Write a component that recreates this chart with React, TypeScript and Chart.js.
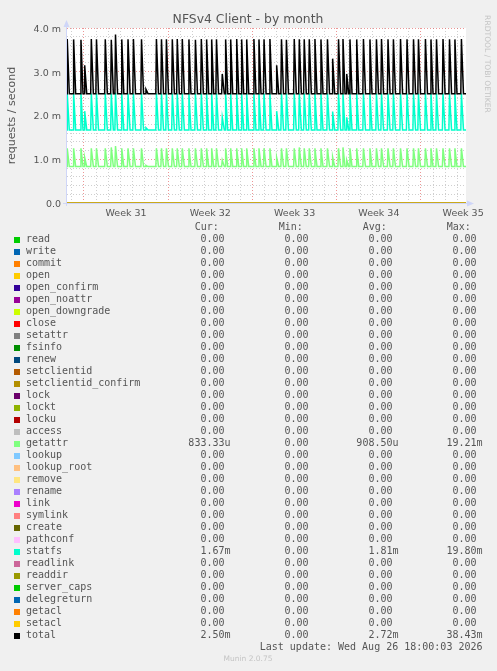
import React, { useEffect, useRef } from "react";
import { Chart, registerables } from "chart.js";

Chart.register(...registerables);

const TITLE = "NFSv4 Client - by month";
const Y_TITLE = "requests / second";
const WATERMARK = "RRDTOOL / TOBI OETIKER";
const LAST_UPDATE = "Last update: Wed Aug 26 18:00:03 2026";
const VERSION = "Munin 2.0.75";

// x axis in days since the start of Week 31; y axis in milli-requests / second
const X_MIN = -1.41;
const X_MAX = 31.74;
const Y_MIN = 0;
const Y_MAX = 4;
const dayTicks = [-1, 0, 1, 2, 3, 4, 5, 6, 7, 8, 9, 10, 11, 12, 13, 14, 15, 16, 17, 18, 19, 20, 21, 22, 23, 24, 25, 26, 27, 28, 29, 30, 31];
const weekCenters = [3.5, 10.5, 17.5, 24.5, 31.5];
const weekLabels = ["Week 31", "Week 32", "Week 33", "Week 34", "Week 35"];
const yTicks = [0, 0.2, 0.4, 0.6, 0.8, 1, 1.2, 1.4, 1.6, 1.8, 2, 2.2, 2.4, 2.6, 2.8, 3, 3.2, 3.4, 3.6, 3.8, 4];
const yMajor = [0, 1, 2, 3, 4];
const yMajorLabels = ["0.0", "1.0 m", "2.0 m", "3.0 m", "4.0 m"];

// spike events (day, peak)
const spikeDays = [
  -1.39, -0.86, -0.25, 0.06, 0.61, 1.04, 1.77, 2.27, 2.62, 3.14, 3.66, 4.11, 4.78, 5.15,
  6.02, 6.44, 6.85, 7.34, 7.75, 8.17, 8.72, 9.26, 9.75, 10.19, 10.61, 11.01, 11.49, 11.77,
  12.19, 12.69, 13.1, 13.52, 14.12, 14.54, 14.96, 15.45, 16.01, 16.41, 16.82, 17.47, 17.89,
  18.3, 18.72, 19.19, 19.69, 20.23, 20.66, 21.15, 21.52, 21.83, 22.1, 22.66, 23.22, 23.76,
  24.3, 24.72, 25.26, 25.71, 26.3, 26.84, 27.38, 27.79, 28.37, 28.83, 29.29, 29.83, 30.37,
  30.82, 31.36,
];
const totalPeaks = [
  3.75, 3.74, 3.73, 3.15, 3.75, 3.74, 3.74, 3.73, 3.85, 3.74, 3.74, 3.75, 3.74, 2.6,
  3.75, 3.74, 3.74, 3.74, 3.75, 3.75, 3.74, 3.73, 3.75, 3.74, 3.74, 3.74, 2.95, 3.74,
  3.74, 3.75, 3.74, 3.74, 3.75, 3.74, 3.74, 3.75, 3.15, 3.74, 3.73, 3.75, 3.74,
  3.74, 3.74, 3.75, 3.74, 3.74, 3.3, 3.74, 3.75, 2.95, 3.74, 3.74, 3.75, 3.74,
  3.74, 3.75, 3.74, 3.74, 3.75, 3.74, 3.74, 3.74, 3.75, 3.74, 3.74, 3.75, 3.74,
  3.74, 3.75,
];
const statfsPeaks = [
  2.5, 2.5, 2.5, 2.1, 2.5, 2.5, 2.5, 2.5, 2.52, 2.5, 2.5, 2.5, 2.5, 1.72,
  2.5, 2.5, 2.5, 2.5, 2.5, 2.5, 2.5, 2.5, 2.5, 2.5, 2.5, 2.5, 1.96, 2.5,
  2.5, 2.5, 2.5, 2.5, 2.5, 2.5, 2.5, 2.5, 2.1, 2.5, 2.5, 2.5, 2.5,
  2.5, 2.5, 2.5, 2.5, 2.5, 2.09, 2.5, 2.5, 1.96, 2.5, 2.5, 2.5, 2.5,
  2.5, 2.5, 2.5, 2.5, 2.5, 2.5, 2.5, 2.5, 2.5, 2.5, 2.5, 2.5, 2.5,
  2.5, 2.5,
];
const getattrPeaks = [
  1.25, 1.25, 1.25, 1.04, 1.25, 1.25, 1.25, 1.27, 1.3, 1.25, 1.25, 1.25, 1.25, 0.86,
  1.25, 1.25, 1.25, 1.25, 1.25, 1.25, 1.25, 1.25, 1.25, 1.25, 1.25, 1.25, 0.98, 1.25,
  1.25, 1.25, 1.25, 1.25, 1.25, 1.25, 1.25, 1.25, 1.04, 1.25, 1.25, 1.25, 1.27,
  1.25, 1.25, 1.25, 1.25, 1.25, 1.05, 1.25, 1.27, 0.98, 1.25, 1.25, 1.25, 1.25,
  1.25, 1.25, 1.25, 1.25, 1.25, 1.25, 1.25, 1.25, 1.25, 1.25, 1.25, 1.25, 1.25,
  1.25, 1.25,
];
const totalBase = 2.5;
const statfsBase = 1.67;
const getattrBase = 0.833;
const RISE = 0.05;
const FALL = 0.17;

const seriesNames = [
  "read", "write", "commit", "open", "open_confirm", "open_noattr", "open_downgrade", "close",
  "setattr", "fsinfo", "renew", "setclientid", "setclientid_confirm", "lock", "lockt", "locku",
  "access", "getattr", "lookup", "lookup_root", "remove", "rename", "link", "symlink", "create",
  "pathconf", "statfs", "readlink", "readdir", "server_caps", "delegreturn", "getacl", "setacl", "total",
];
const seriesColors = [
  "#00CC00", "#0066B3", "#FF8000", "#FFCC00", "#330099", "#990099", "#CCFF00", "#FF0000",
  "#808080", "#008F00", "#00487D", "#B35A00", "#B38F00", "#6B006B", "#8FB300", "#B30000",
  "#BEBEBE", "#80FF80", "#80C9FF", "#FFC080", "#FFE680", "#AA80FF", "#EE00CC", "#FF8080", "#666600",
  "#FFBFFF", "#00FFCC", "#CC6699", "#999900", "#00CC00", "#0066B3", "#FF8000", "#FFCC00", "#000000",
];
// legend statistics (requests / second)
const curValues = [0, 0, 0, 0, 0, 0, 0, 0, 0, 0, 0, 0, 0, 0, 0, 0, 0, 0.00083333, 0, 0, 0, 0, 0, 0, 0, 0, 0.00167, 0, 0, 0, 0, 0, 0, 0.0025];
const minValues = [0, 0, 0, 0, 0, 0, 0, 0, 0, 0, 0, 0, 0, 0, 0, 0, 0, 0, 0, 0, 0, 0, 0, 0, 0, 0, 0, 0, 0, 0, 0, 0, 0, 0];
const avgValues = [0, 0, 0, 0, 0, 0, 0, 0, 0, 0, 0, 0, 0, 0, 0, 0, 0, 0.0009085, 0, 0, 0, 0, 0, 0, 0, 0, 0.00181, 0, 0, 0, 0, 0, 0, 0.00272];
const maxValues = [0, 0, 0, 0, 0, 0, 0, 0, 0, 0, 0, 0, 0, 0, 0, 0, 0, 0.01921, 0, 0, 0, 0, 0, 0, 0, 0, 0.0198, 0, 0, 0, 0, 0, 0, 0.03843];

function buildSpiky(base: number, peaks: number[]) {
  const pts: { x: number; y: number }[] = [{ x: X_MIN, y: base }, { x: X_MAX, y: base }];
  spikeDays.forEach((t, i) => {
    pts.push({ x: t - RISE, y: base }, { x: t, y: peaks[i] }, { x: t + FALL, y: base });
  });
  pts.sort((a, b) => a.x - b.x);
  return pts;
}

function seriesData(name: string) {
  if (name === "total") return buildSpiky(totalBase, totalPeaks);
  if (name === "statfs") return buildSpiky(statfsBase, statfsPeaks);
  if (name === "getattr") return buildSpiky(getattrBase, getattrPeaks);
  return [{ x: X_MIN, y: 0 }, { x: X_MAX, y: 0 }];
}

function fmt(v: number): [string, boolean] {
  if (v === 0) return ["0.00", false];
  if (v < 1e-3) return [(v * 1e6).toFixed(2) + "u", true];
  return [(v * 1e3).toFixed(2) + "m", true];
}

const TEXT = "#555555";
const AXIS = "#CFD6F8";
const MAJOR = "rgba(224,80,80,0.6)";
const MINOR = "rgba(186,186,186,0.7)";

const muninPlugin = {
  id: "munin",
  beforeDraw(chart: any) {
    const { ctx, chartArea: a } = chart;
    ctx.save();
    ctx.fillStyle = "#F0F0F0";
    ctx.fillRect(0, 0, chart.width, chart.height);
    ctx.fillStyle = "#FFFFFF";
    ctx.fillRect(a.left, a.top, a.right - a.left, a.bottom - a.top);
    ctx.restore();
  },
  afterDraw(chart: any) {
    const { ctx, chartArea: a } = chart;
    ctx.save();
    // axes with arrows
    ctx.strokeStyle = AXIS;
    ctx.fillStyle = AXIS;
    ctx.lineWidth = 1;
    ctx.beginPath();
    ctx.moveTo(a.left - 0.5, a.bottom + 3);
    ctx.lineTo(a.left - 0.5, a.top - 4);
    ctx.moveTo(a.left - 4, a.bottom + 0.5);
    ctx.lineTo(a.right + 4, a.bottom + 0.5);
    ctx.stroke();
    ctx.beginPath();
    ctx.moveTo(a.left - 0.5, a.top - 8);
    ctx.lineTo(a.left - 3.5, a.top - 1);
    ctx.lineTo(a.left + 2.5, a.top - 1);
    ctx.closePath();
    ctx.fill();
    ctx.beginPath();
    ctx.moveTo(a.right + 8, a.bottom + 0.5);
    ctx.lineTo(a.right + 1, a.bottom - 2.5);
    ctx.lineTo(a.right + 1, a.bottom + 3.5);
    ctx.closePath();
    ctx.fill();

    // title
    ctx.fillStyle = TEXT;
    ctx.font = "12.4px 'DejaVu Sans'";
    ctx.textAlign = "center";
    ctx.textBaseline = "alphabetic";
    ctx.fillText(TITLE, 248, 22.5);

    // y title
    ctx.save();
    ctx.translate(12, (a.top + a.bottom) / 2);
    ctx.rotate(-Math.PI / 2);
    ctx.font = "11px 'DejaVu Sans'";
    ctx.textBaseline = "middle";
    ctx.fillText(Y_TITLE, 0, 0);
    ctx.restore();

    // watermark
    ctx.save();
    ctx.translate(487, 64);
    ctx.rotate(Math.PI / 2);
    ctx.font = "7.6px 'DejaVu Sans'";
    ctx.fillStyle = "#C4C4C4";
    ctx.textAlign = "center";
    ctx.textBaseline = "middle";
    ctx.fillText(WATERMARK, 0, 0);
    ctx.restore();

    // legend table
    ctx.font = "10px 'DejaVu Sans Mono'";
    ctx.textBaseline = "middle";
    const cw = ctx.measureText("0").width;
    const headX = [194.7, 278.7, 362.7, 446.7];
    const colRight = [230.5, 314.5, 398.5, 482.5];
    const rowTop = 239.5;
    const step = 12;
    ctx.fillStyle = TEXT;
    ctx.textAlign = "left";
    ["Cur:", "Min:", "Avg:", "Max:"].forEach((h, k) => ctx.fillText(h, headX[k], rowTop - step));
    const cols = [curValues, minValues, avgValues, maxValues];
    seriesNames.forEach((name, i) => {
      const y = rowTop + i * step;
      ctx.fillStyle = seriesColors[i];
      ctx.fillRect(14, Math.round(y) - 3, 6, 6);
      ctx.fillStyle = TEXT;
      ctx.textAlign = "left";
      ctx.fillText(name, 26, y);
      ctx.textAlign = "right";
      cols.forEach((col, k) => {
        const [s, suf] = fmt(col[i]);
        ctx.fillText(s, colRight[k] - (suf ? 0 : cw), y);
      });
    });
    ctx.textAlign = "right";
    ctx.fillText(LAST_UPDATE, 482.5, rowTop + seriesNames.length * step);
    ctx.font = "7.5px 'DejaVu Sans'";
    ctx.fillStyle = "#C4C4C4";
    ctx.textAlign = "center";
    ctx.fillText(VERSION, 248, 659.5);
    ctx.restore();
  },
};

export default function App() {
  const ref = useRef<HTMLCanvasElement | null>(null);
  useEffect(() => {
    document.body.style.margin = "0";
    document.body.style.background = "#F0F0F0";
    const canvas = ref.current;
    if (!canvas) return;
    const spiky = ["total", "statfs", "getattr"];
    const datasets = seriesNames.map((name, i) => ({
      label: name,
      data: seriesData(name),
      borderColor: seriesColors[i],
      backgroundColor: seriesColors[i],
      borderWidth: spiky.includes(name) ? 1.5 : 1,
      pointRadius: 0,
      tension: 0,
      fill: false,
      order: seriesNames.length - i,
    }));
    const isInt = (v: number) => Math.abs(v - Math.round(v)) < 1e-6;
    const chart = new Chart(canvas, {
      type: "line",
      data: { datasets },
      plugins: [muninPlugin],
      options: {
        animation: false,
        responsive: false,
        maintainAspectRatio: false,
        events: [],
        layout: { padding: { left: 0, top: 28, right: 31, bottom: 448 } },
        plugins: { legend: { display: false }, tooltip: { enabled: false }, title: { display: false } },
        scales: {
          x: {
            type: "linear",
            min: X_MIN,
            max: X_MAX,
            afterBuildTicks: (s: any) => {
              s.ticks = [...dayTicks, ...weekCenters].map((v) => ({ value: v }));
            },
            afterFit: (s: any) => {
              s.height = 20;
            },
            ticks: {
              autoSkip: false,
              maxRotation: 0,
              minRotation: 0,
              padding: 5,
              color: TEXT,
              font: { family: "DejaVu Sans", size: 9.5 },
              callback: (v: any) => {
                const k = weekCenters.indexOf(Number(v));
                return k >= 0 ? weekLabels[k] : "";
              },
            },
            grid: {
              drawTicks: false,
              lineWidth: 1,
              color: (c: any) => {
                const v = c.tick ? c.tick.value : 0;
                if (!isInt(v)) return "rgba(0,0,0,0)";
                return Math.round(v) % 7 === 0 ? MAJOR : MINOR;
              },
            },
            border: { display: false, dash: [1, 2] },
          },
          y: {
            type: "linear",
            min: Y_MIN,
            max: Y_MAX,
            afterBuildTicks: (s: any) => {
              s.ticks = yTicks.map((v) => ({ value: v }));
            },
            afterFit: (s: any) => {
              s.width = 67;
            },
            ticks: {
              autoSkip: false,
              padding: 6,
              labelOffset: 1.5,
              color: TEXT,
              font: { family: "DejaVu Sans", size: 9.5 },
              callback: (v: any) => {
                const k = yMajor.findIndex((m) => Math.abs(m - Number(v)) < 1e-6);
                return k >= 0 ? yMajorLabels[k] : "";
              },
            },
            grid: {
              drawTicks: false,
              lineWidth: 1,
              color: (c: any) => {
                const v = c.tick ? c.tick.value : 0;
                return isInt(v) ? MAJOR : MINOR;
              },
            },
            border: { display: false, dash: [1, 2] },
          },
        },
      } as any,
    });
    return () => chart.destroy();
  }, []);
  return <canvas ref={ref} width={497} height={671} style={{ display: "block", width: 497, height: 671 }} />;
}
